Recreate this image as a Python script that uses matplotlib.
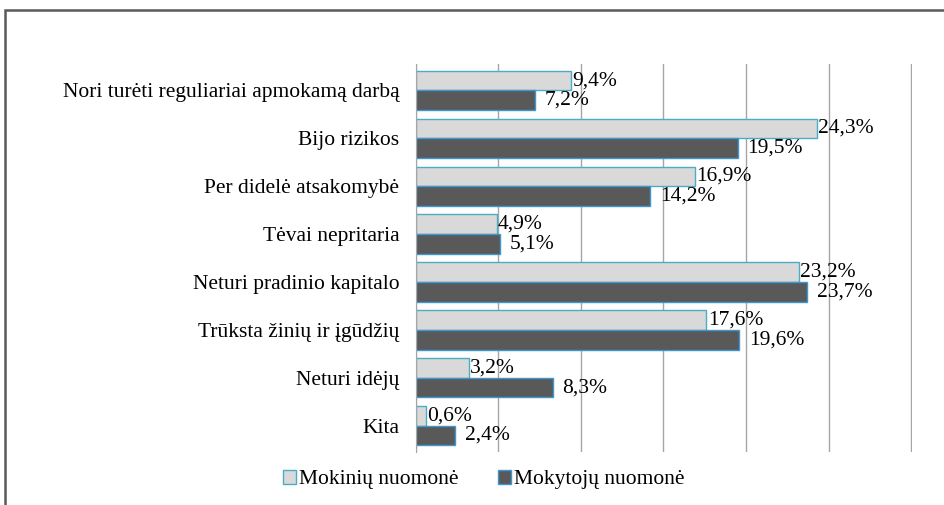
import matplotlib
matplotlib.use("Agg")
import numpy as np
from matplotlib import pyplot as plt
from matplotlib.patches import Rectangle, Patch

categories = ["Nori turėti reguliariai apmokamą darbą", "Bijo rizikos",
              "Per didelė atsakomybė", "Tėvai nepritaria",
              "Neturi pradinio kapitalo", "Trūksta žinių ir įgūdžių",
              "Neturi idėjų", "Kita"]
mokiniu = [9.4, 24.3, 16.9, 4.9, 23.2, 17.6, 3.2, 0.6]
mokytoju = [7.2, 19.5, 14.2, 5.1, 23.7, 19.6, 8.3, 2.4]
series_names = ["Mokinių nuomonė", "Mokytojų nuomonė"]

plt.rcParams['font.family'] = ['Liberation Serif', 'DejaVu Serif']
fs = 15.5

fig = plt.figure(figsize=(9.45, 5.05), dpi=100)
ax = fig.add_axes([0.440, 0.105, 0.525, 0.768])

# outer frame like the exported chart
fig.patches.append(Rectangle((0.005, -0.1), 1.2, 1.08, transform=fig.transFigure,
                             fill=False, edgecolor="#5a5a5a", linewidth=1.8))

y = np.arange(len(categories))
h = 0.41
light = ax.barh(y - h / 2, mokiniu, height=h, color="#D9D9D9", edgecolor="#4BACC6", linewidth=1)
dark = ax.barh(y + h / 2, mokytoju, height=h, color="#595959", edgecolor="#3F97D0", linewidth=1)

for b, v in zip(light, mokiniu):
    ax.annotate(f"{v:.1f}%".replace(".", ","), (b.get_width(), b.get_y() + b.get_height() / 2),
                xytext=(1, 0), textcoords="offset points", va="center", ha="left", fontsize=fs)
for b, v in zip(dark, mokytoju):
    ax.annotate(f"{v:.1f}%".replace(".", ","), (b.get_width(), b.get_y() + b.get_height() / 2),
                xytext=(7, 0), textcoords="offset points", va="center", ha="left", fontsize=fs)

ax.set_xlim(0, 30.05)
ax.set_ylim(len(categories) - 0.5 + 0.05, -0.5 - 0.05)
ax.set_xticks(np.arange(0, 31, 5))
ax.xaxis.grid(True, color="#A6A6A6", linewidth=1)
ax.set_axisbelow(True)
ax.tick_params(axis="x", length=0, labelbottom=False)
ax.set_yticks(y)
ax.set_yticklabels(categories, fontsize=fs)
ax.tick_params(axis="y", length=0, pad=12)
for s in ["top", "right", "bottom"]:
    ax.spines[s].set_visible(False)
ax.spines["left"].set_color("#A6A6A6")

handles = [Patch(facecolor="#D9D9D9", edgecolor="#4BACC6"),
           Patch(facecolor="#595959", edgecolor="#3F97D0")]
fig.legend(handles, series_names, loc="center", bbox_to_anchor=(0.512, 0.05), ncol=2,
           frameon=False, fontsize=fs, handlelength=0.6, handleheight=0.6,
           handletextpad=0.15, columnspacing=1.8)

fig.savefig("out.png", dpi=100)
